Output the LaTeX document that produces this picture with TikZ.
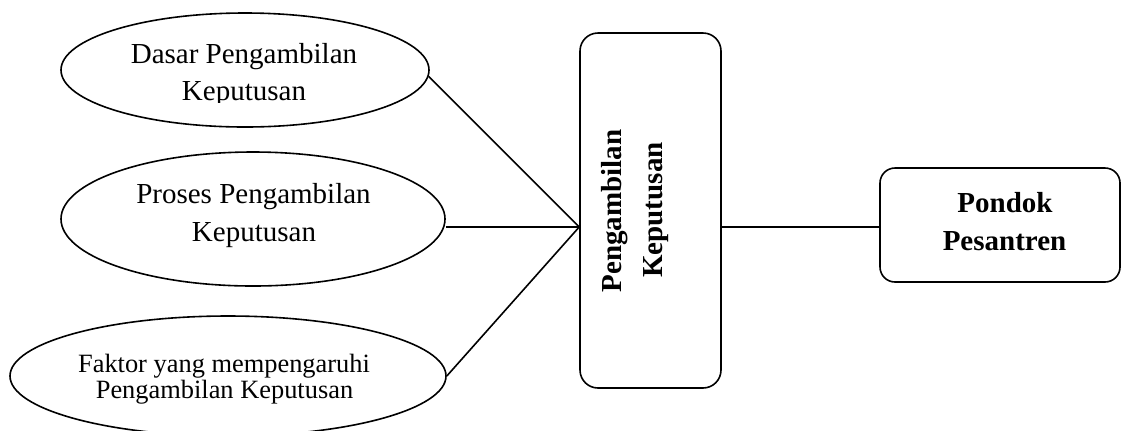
\documentclass[tikz,border=0pt]{standalone}
\usepackage{fontspec}
\setmainfont{Liberation Serif}
\usetikzlibrary{shapes.geometric}
\begin{document}
\begin{tikzpicture}[x=0.5pt,y=-0.5pt,
  oval/.style={draw, ellipse, line width=0.8pt, inner sep=0pt},
  rbox/.style={draw, rectangle, line width=0.8pt, inner sep=0pt},
  txt/.style={anchor=base, inner sep=0pt, font=\fontsize{14.5pt}{19pt}\selectfont},
  txts/.style={anchor=base, inner sep=0pt, font=\fontsize{13.2pt}{14pt}\selectfont},
  btxt/.style={anchor=base, inner sep=0pt, font=\fontsize{14.5pt}{19pt}\selectfont\bfseries},
  link/.style={line width=0.8pt}]
\useasboundingbox (0,0) rectangle (1122,430);
% ellipses
\node[oval, minimum width=184pt, minimum height=57pt] (e1) at (245,70) {};
\node[oval, minimum width=192pt, minimum height=67pt] (e2) at (253,219) {};
\node[oval, minimum width=218pt, minimum height=60pt] (e3) at (228,376) {};
% boxes
\node[rbox, rounded corners=9pt, minimum width=70.5pt, minimum height=177.5pt] (box) at (650.5,210.5) {};
\node[rbox, rounded corners=7.5pt, minimum width=120pt, minimum height=57pt] (pk) at (1000,225) {};
% texts
\node[txt] (t1a) at (244,63) {Dasar Pengambilan};
\begin{scope}
\clip (0,0) rectangle (1122,102);
\node[txt] (t1b) at (244,100) {Keputusan};
\end{scope}
\node[txt] (t2a) at (253.5,203) {Proses Pengambilan};
\node[txt] (t2b) at (254,241) {Keputusan};
\node[txts] (t3a) at (224,372) {Faktor yang mempengaruhi};
\node[txts] (t3b) at (224.5,398) {Pengambilan Keputusan};
\node[btxt, rotate=90] (b1) at (621,211) {Pengambilan};
\node[btxt, rotate=90] (b2) at (662,210) {Keputusan};
\node[btxt] (p1) at (1005,212) {Pondok};
\node[btxt] (p2) at (1004.5,250) {Pesantren};
% connectors
\coordinate (m) at ([yshift=-8.25pt]box.west);
\draw[link] (e1.-2) -- (m);
\draw[link] (e2.east |- m) -- (m);
\draw[link] (e3.east) -- (m);
\draw[link] (box.east |- m) -- (pk.west |- m);
\end{tikzpicture}
\end{document}
